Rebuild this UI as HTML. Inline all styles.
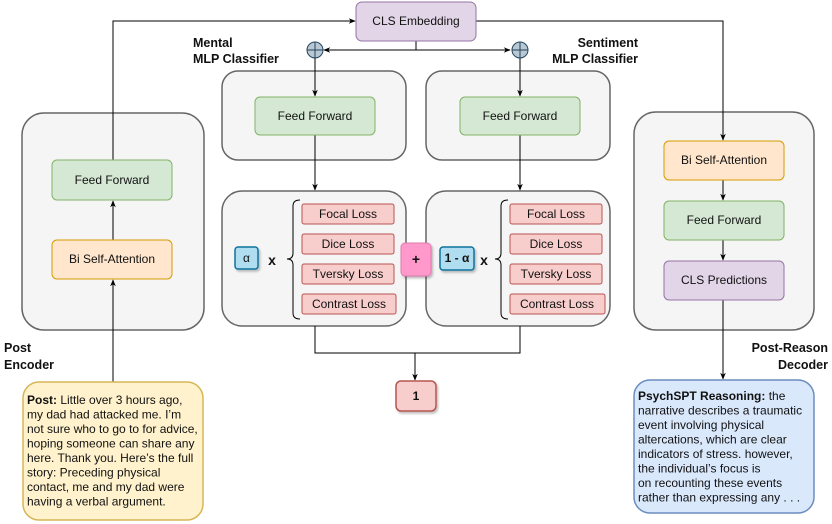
<!DOCTYPE html>
<html><head><meta charset="utf-8"><style>
body{margin:0;background:#fff;}
svg{display:block;font-family:"Liberation Sans",Arial,sans-serif;}
.t{font-size:12px;text-anchor:middle;dominant-baseline:central;fill:#111;}
.b{font-size:12.5px;font-weight:bold;fill:#111;}
</style></head><body>
<svg width="832" height="524" viewBox="0 0 832 524" xmlns="http://www.w3.org/2000/svg">
<defs>
<marker id="a" viewBox="0 0 10 10" refX="9" refY="5" markerWidth="7" markerHeight="7" orient="auto-start-reverse"><path d="M0,1 L10,5 L0,9 L3,5z" fill="#000"/></marker>
<filter id="s" x="-10%" y="-10%" width="130%" height="130%"><feDropShadow dx="1.5" dy="2" stdDeviation="1" flood-opacity="0.25"/></filter>
</defs>
<!-- panels -->
<g fill="#f5f5f5" stroke="#666" stroke-width="1.5">
<rect x="22" y="113" width="182" height="217" rx="22"/>
<rect x="222" y="71" width="184" height="89" rx="16"/>
<rect x="426" y="71" width="184" height="89" rx="16"/>
<rect x="222" y="191" width="184" height="135" rx="20"/>
<rect x="426" y="191" width="184" height="135" rx="20"/>
<rect x="634" y="112" width="180" height="218" rx="22"/>
</g>
<g stroke="#000" fill="none" stroke-width="1">
<path d="M113,160 V21 H355" marker-end="url(#a)"/>
<path d="M476,21 H723 V140" marker-end="url(#a)"/>
<path d="M416,41 V50"/>
<path d="M324,50 H510" marker-start="url(#a)" marker-end="url(#a)"/>
<path d="M315,58 V96" marker-end="url(#a)"/>
<path d="M520,58 V96" marker-end="url(#a)"/>
<path d="M315,135 V190" marker-end="url(#a)"/>
<path d="M520,135 V190" marker-end="url(#a)"/>
<path d="M315,326 V353 H520 V326"/>
<path d="M415,353 V380" marker-end="url(#a)"/>
<path d="M113,240 V201" marker-end="url(#a)"/>
<path d="M113,382 V280" marker-end="url(#a)"/>
<path d="M723,180 V200" marker-end="url(#a)"/>
<path d="M723,240 V260" marker-end="url(#a)"/>
<path d="M723,300 V379" marker-end="url(#a)"/>
</g>
<rect x="356" y="2" width="120" height="39" rx="6" fill="#e1d5e7" stroke="#9673a6"/>
<text class="t" x="416" y="21">CLS Embedding</text>
<g fill="#bac8d3" stroke="#23445d">
<circle cx="315" cy="50" r="8"/><circle cx="520" cy="50" r="8"/>
</g>
<g stroke="#23445d"><path d="M307,50H323M315,42V58M512,50H528M520,42V58"/></g>
<g fill="#d5e8d4" stroke="#82b366">
<rect x="255" y="97" width="120" height="38" rx="5"/>
<rect x="460" y="97" width="120" height="38" rx="5"/>
<rect x="52" y="160" width="120" height="40" rx="5"/>
<rect x="664" y="201" width="120" height="39" rx="5"/>
</g>
<text class="t" x="315" y="116">Feed Forward</text>
<text class="t" x="520" y="116">Feed Forward</text>
<text class="t" x="112" y="180">Feed Forward</text>
<text class="t" x="724" y="220">Feed Forward</text>
<g fill="#ffe6cc" stroke="#d79b00">
<rect x="52" y="240" width="120" height="39" rx="5"/>
<rect x="664" y="141" width="120" height="39" rx="5"/>
</g>
<text class="t" x="112" y="259">Bi Self-Attention</text>
<text class="t" x="724" y="160">Bi Self-Attention</text>
<rect x="664" y="261" width="120" height="39" rx="5" fill="#e1d5e7" stroke="#9673a6"/>
<text class="t" x="724" y="280">CLS Predictions</text>
<!-- losses -->
<g fill="#f8cecc" stroke="#b85450">
<rect x="302" y="204" width="92" height="20" rx="2"/>
<rect x="302" y="234" width="92" height="20" rx="2"/>
<rect x="302" y="264" width="92" height="20" rx="2"/>
<rect x="302" y="294" width="94" height="20" rx="2"/>
<rect x="510" y="204" width="92" height="20" rx="2"/>
<rect x="510" y="234" width="92" height="20" rx="2"/>
<rect x="510" y="264" width="92" height="20" rx="2"/>
<rect x="510" y="294" width="95" height="20" rx="2"/>
</g>
<text class="t" x="348" y="214">Focal Loss</text>
<text class="t" x="348" y="244">Dice Loss</text>
<text class="t" x="348" y="274">Tversky Loss</text>
<text class="t" x="349" y="304">Contrast Loss</text>
<text class="t" x="556" y="214">Focal Loss</text>
<text class="t" x="556" y="244">Dice Loss</text>
<text class="t" x="556" y="274">Tversky Loss</text>
<text class="t" x="557" y="304">Contrast Loss</text>
<g fill="none" stroke="#000">
<path d="M300,200 Q293,200 293,206 V253 Q293,259 287,259 Q293,259 293,265 V313 Q293,319 300,319"/>
<path d="M508,200 Q501,200 501,206 V253 Q501,259 495,259 Q501,259 501,265 V313 Q501,319 508,319"/>
</g>
<g filter="url(#s)">
<rect x="235" y="247" width="23" height="22" rx="3" fill="#b1ddf0" stroke="#10739e" stroke-width="1.5"/>
<rect x="440" y="247" width="34" height="23" rx="3" fill="#b1ddf0" stroke="#10739e" stroke-width="1.5"/>
<rect x="401" y="243" width="30" height="33" rx="4" fill="#ff99cc" stroke="#e07aaf"/>
<rect x="396" y="381" width="40" height="30" rx="5" fill="#f8cecc" stroke="#b85450" stroke-width="1.5"/>
</g>
<text class="t" x="246.5" y="258">α</text>
<text class="t" x="457" y="258" style="font-weight:bold">1 - α</text>
<text class="t" x="416" y="259" style="font-weight:bold;font-size:14px">+</text>
<text class="t" x="416" y="396" style="font-weight:bold">1</text>
<text class="t" x="272" y="260" style="font-weight:bold;font-size:14px">x</text>
<text class="t" x="484" y="260" style="font-weight:bold;font-size:14px">x</text>
<!-- labels -->
<text class="b" x="193" y="47">Mental</text>
<text class="b" x="193" y="63">MLP Classifier</text>
<text class="b" x="638" y="47" text-anchor="end">Sentiment</text>
<text class="b" x="638" y="63" text-anchor="end">MLP Classifier</text>
<text class="b" x="4" y="352">Post</text>
<text class="b" x="4" y="369">Encoder</text>
<text class="b" x="828" y="352" text-anchor="end">Post-Reason</text>
<text class="b" x="828" y="369" text-anchor="end">Decoder</text>
<!-- text boxes -->
<rect x="23" y="382" width="180" height="138" rx="16" fill="#fff2cc" stroke="#d6b656" stroke-width="1.5"/>
<g font-size="12" fill="#111">
<text x="27" y="404"><tspan font-weight="bold">Post:</tspan> Little over 3 hours ago,</text>
<text x="27" y="418.5">my dad had attacked me. I’m</text>
<text x="27" y="433">not sure who to go to for advice,</text>
<text x="27" y="447.5">hoping someone can share any</text>
<text x="27" y="462">here. Thank you. Here’s the full</text>
<text x="27" y="476.5">story: Preceding physical</text>
<text x="27" y="491">contact, me and my dad were</text>
<text x="27" y="505.5">having a verbal argument.</text>
</g>
<rect x="634" y="380" width="180" height="133" rx="16" fill="#dae8fc" stroke="#6c8ebf" stroke-width="1.5"/>
<g font-size="12" fill="#111">
<text x="638" y="400"><tspan font-weight="bold">PsychSPT Reasoning:</tspan> the</text>
<text x="638" y="414.5">narrative describes a traumatic</text>
<text x="638" y="429">event involving physical</text>
<text x="638" y="443.5">altercations, which are clear</text>
<text x="638" y="458">indicators of stress. however,</text>
<text x="638" y="472.5">the individual’s focus is</text>
<text x="638" y="487">on recounting these events</text>
<text x="638" y="501.5">rather than expressing any . . .</text>
</g>
</svg>
</body></html>
